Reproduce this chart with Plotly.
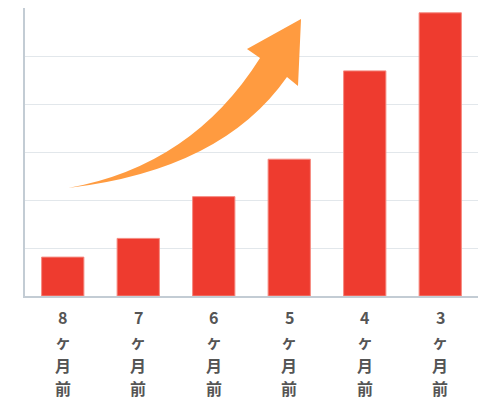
import plotly.graph_objects as go

# months before now, oldest first
months = ["8", "7", "6", "5", "4", "3"]
values = [0.81, 1.20, 2.07, 2.85, 4.69, 5.90]
label_chars = ["ヶ", "月", "前"]

W, H = 500, 410
# the page puts the figure 8px in from the top-left corner
L, R, T, B = 17, 30, 0, 122
YMAX = 6


def px(x, y):
    # position on the photographed page -> data coords (bars at 0..5)
    x, y = x - 8, y - 8
    xd = (x - L) / ((W - L - R) / len(months)) - 0.5
    yd = (H - B - y) / ((H - T - B) / YMAX)
    return f"{xd:.3f},{yd:.3f}"


fig = go.Figure()
fig.add_trace(go.Bar(
    x=list(range(len(months))), y=values,
    marker=dict(color="#ee3b2f", line=dict(color="#f58a80", width=1)),
    width=0.56, hoverinfo="skip"
))

# curved growth arrow
arrow = ("M " + px(68, 188) + " Q " + px(192, 166) + " " + px(260, 58)
         + " L " + px(247, 49) + " L " + px(301, 19) + " L " + px(298, 86)
         + " L " + px(287, 77) + " Q " + px(222, 170) + " " + px(68, 188) + " Z")
fig.add_shape(type="path", path=arrow, xref="x", yref="y",
              fillcolor="#ff9b40", line=dict(width=0), layer="above")

# vertical category labels, one character per line
shifts = [-21, -45, -69, -92]
for i, m in enumerate(months):
    for ch, dy in zip([m] + label_chars, shifts):
        fig.add_annotation(
            x=i, y=0, xref="x", yref="paper", text=ch, showarrow=False,
            yanchor="middle", yshift=dy, borderpad=0,
            font=dict(size=16, family="Noto Sans CJK JP", weight="bold", color="#555555"),
        )

fig.update_layout(
    width=W, height=H,
    margin=dict(l=L, r=R, t=T, b=B),
    plot_bgcolor="white", paper_bgcolor="white",
    showlegend=False,
    font=dict(family="Noto Sans CJK JP", color="#555555"),
)
fig.update_xaxes(
    range=[-0.5, len(months) - 0.5],
    tickvals=list(range(len(months))), showticklabels=False,
    showline=True, linecolor="#c3ccd4", linewidth=2,
    showgrid=False, ticks="",
)
fig.update_yaxes(
    range=[0, YMAX], dtick=1, showticklabels=False,
    showgrid=True, gridcolor="#e2e7eb", gridwidth=1,
    showline=True, linecolor="#c3ccd4", linewidth=2,
    zeroline=False,
)

fig.write_html("out.html")
